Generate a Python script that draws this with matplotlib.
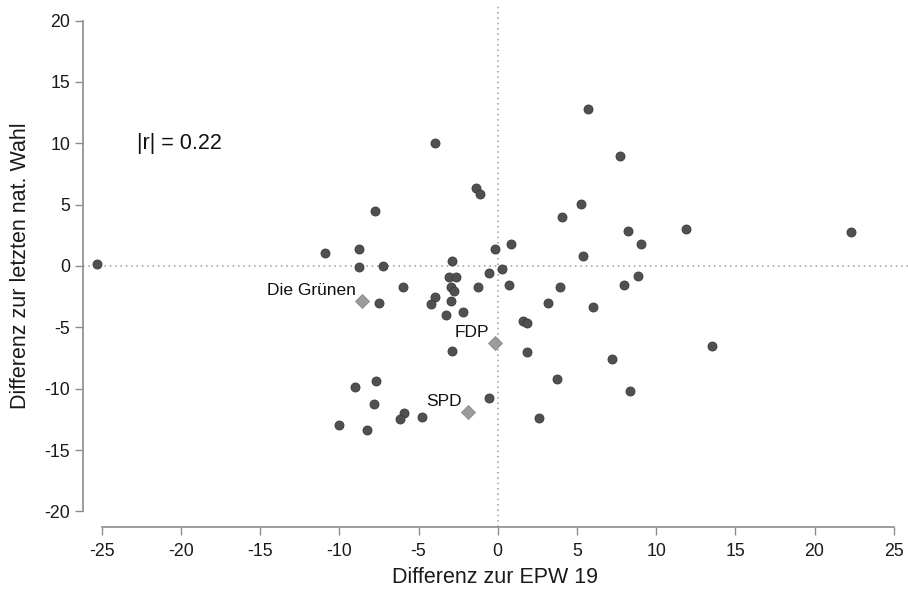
import matplotlib
matplotlib.use("Agg")
import matplotlib.pyplot as plt

plt.rcParams["font.family"] = ["Liberation Sans", "DejaVu Sans"]

# Differenz zur EPW 19 (x) und zur letzten nat. Wahl (y), je Partei
diff_epw = [5.70, -3.98, 7.70, -1.39, -1.12, -7.73, 5.28, 4.04, -10.88, -8.76,
            -0.17, 0.82, 5.41, -8.78, -7.22, -2.90, 0.25, -0.55, -3.07, -2.65,
            -5.96, -2.97, -2.76, -1.26, 0.71, 3.91, 8.21, 9.07, 11.91, 22.32,
            8.86, 7.95, -25.28, -7.51, -3.94, -4.21, -2.97, -3.28, -2.17, 3.19,
            6.00, 1.58, 1.83, -2.90, 1.83, 7.19, -7.68, -8.99, 3.72, -0.57,
            -7.79, -5.89, -6.17, -4.78, 2.63, -10.00, -8.27, 13.53, 8.37]
diff_nat = [12.77, 10.00, 8.96, 6.38, 5.89, 4.51, 5.05, 3.99, 1.06, 1.38,
            1.41, 1.76, 0.79, -0.08, 0.00, 0.38, -0.22, -0.57, -0.87, -0.90,
            -1.74, -1.74, -2.04, -1.74, -1.57, -1.74, 2.85, 1.82, 2.99, 2.77,
            -0.79, -1.55, 0.14, -2.99, -2.50, -3.07, -2.85, -4.02, -3.75, -2.99,
            -3.34, -4.45, -4.67, -6.95, -6.98, -7.55, -9.34, -9.88, -9.23, -10.73,
            -11.24, -11.98, -12.49, -12.30, -12.38, -12.98, -13.39, -6.54, -10.18]

# hervorgehobene deutsche Parteien
de_parties = ["Die Grünen", "FDP", "SPD"]
de_epw = [-8.59, -0.17, -1.90]
de_nat = [-2.88, -6.27, -11.89]

x_ticks = [-25, -20, -15, -10, -5, 0, 5, 10, 15, 20, 25]
y_ticks = [-20, -15, -10, -5, 0, 5, 10, 15, 20]
r_label = "|r| = 0.22"

fig = plt.figure(figsize=(9.08, 5.89), dpi=100)
ax = fig.add_axes([0.0911, 0.1058, 0.9089, 0.8852])

ax.axhline(0, color="#9a9a9a", lw=1.1, ls=(0, (1, 2.5)), zorder=1)
ax.axvline(0, color="#9a9a9a", lw=1.1, ls=(0, (1, 2.5)), zorder=1)

ax.plot(diff_epw, diff_nat, "o", ms=6.5, color="#505050", mec="#3a3a3a",
        mew=0.6, zorder=3)
ax.plot(de_epw, de_nat, "D", ms=7.0, color="#9b9b9b", mec="#8a8a8a",
        mew=0.6, zorder=4)
for name, x, y in zip(de_parties, de_epw, de_nat):
    ax.annotate(name, (x, y), xytext=(-4, 4.5), textcoords="offset points",
                ha="right", va="baseline", fontsize=12.5, color="#111111")

ax.text(-22.75, 10, r_label, ha="left", va="center", fontsize=15.5,
        color="#111111")

ax.set_xlim(-26.2, 25.9)
ax.set_ylim(-21.24, 21.24)
ax.set_xticks(x_ticks)
ax.set_yticks(y_ticks)
ax.set_xticklabels([str(t) for t in x_ticks])
ax.set_yticklabels([str(t) for t in y_ticks])

for side in ["top", "right"]:
    ax.spines[side].set_visible(False)
ax.spines["left"].set_bounds(-20, 20)
ax.spines["bottom"].set_bounds(-25, 25)
for side in ["left", "bottom"]:
    ax.spines[side].set_color("#8c8c8c")
    ax.spines[side].set_linewidth(1.2)
ax.tick_params(axis="both", length=6, width=1.0, color="#8c8c8c",
               labelsize=12.8, labelcolor="#1a1a1a", pad=3)
ax.tick_params(axis="x", pad=6)

ax.set_xlabel("Differenz zur EPW 19", fontsize=15.5, color="#1a1a1a", labelpad=5)
ax.set_ylabel("Differenz zur letzten nat. Wahl", fontsize=15.5, color="#1a1a1a",
              labelpad=10)

fig.savefig("out.png", dpi=100)
